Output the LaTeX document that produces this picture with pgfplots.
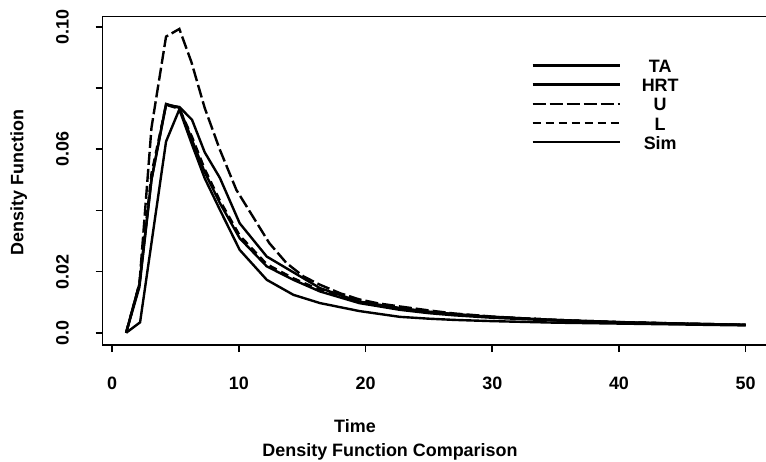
\documentclass[border=0pt]{standalone}
\usepackage{fontspec}
\setmainfont{Liberation Sans}
\usepackage{pgfplots}
\pgfplotsset{compat=1.18}

\begin{document}
\begin{tikzpicture}
% page = 766 x 462 bp, axis box lower-left corner at (0,0)
\useasboundingbox (-102.7bp,-117bp) rectangle (663.3bp,345bp);
\begin{axis}[
    scale only axis,
    width=681bp, height=328.3bp,
    xmin=-0.75, xmax=53,
    ymin=-0.004, ymax=0.1033,
    axis line style={line width=1.6bp},
    tick style={line width=1.6bp, black},
    tick align=outside, tick pos=left,
    major tick length=7bp,
    xtick={0,10,20,30,40,50},
    xticklabels={0,10,20,30,40,50},
    ytick={0,0.02,0.04,0.06,0.08,0.1},
    yticklabels={0.0,0.02,,0.06,,0.10},
    /pgf/number format/assume math mode=true,
    ticklabel style={font=\fontsize{18}{21}\selectfont\bfseries, inner sep=0pt},
    xticklabel style={anchor=base},
    xticklabel shift=37.3bp,
    yticklabel style={rotate=90, anchor=base},
    yticklabel shift=27bp,
    label style={font=\fontsize{18}{21}\selectfont\bfseries, inner sep=0pt},
    xlabel={Time},
    xlabel style={at={(axis description cs:0.3705,0)}, anchor=base, yshift=-87bp},
    ylabel={Density Function},
    ylabel style={at={(axis description cs:-0.1163,0.495)}, anchor=base},
    title={Density Function Comparison},
    title style={font=\fontsize{18}{21}\selectfont\bfseries, inner sep=0pt,
        at={(axis description cs:0.4219,0)}, anchor=base, yshift=-117bp},
    legend style={draw=none, fill=none, at={(axis cs:33.07,0.0894)}, anchor=north west,
        font=\fontsize{18}{21}\selectfont\bfseries, inner sep=0pt,
        row sep=6.2bp, column sep=21bp,
        nodes={inner sep=0pt, text height=13bp, text depth=0pt}},
    legend cell align=center,
    legend image code/.code={\draw[#1] (0bp,0.5bp) -- (87bp,0.5bp);},
    curve/.style={black, line width=2.4bp, mark=none},
]
% TA
\addplot[curve, solid] coordinates {
 (1.1,0) (2.15,0.016) (3.1,0.05) (4.25,0.0748) (5.3,0.0735) (6.3,0.063)
 (7.3,0.0525) (8.5,0.0424) (10.06,0.0309) (12.2,0.0217) (14.3,0.0173)
 (16.4,0.0135) (19.5,0.0097) (22.7,0.0075) (25,0.0064) (27,0.0057)
 (30,0.0049) (35,0.0040) (40,0.0034) (45,0.0029) (50,0.0026)
};
\addlegendentry{TA}
% HRT
\addplot[curve, solid] coordinates {
 (1.1,0) (2.15,0.015) (3.1,0.05) (4.25,0.0745) (5.3,0.0738) (6.3,0.0696)
 (7.3,0.059) (8.5,0.0506) (10.06,0.0358) (12.2,0.0249) (13.75,0.0211)
 (16.4,0.0146) (19.5,0.0102) (22.7,0.0081) (25,0.0069) (27,0.0061)
 (30,0.0052) (35,0.0042) (40,0.0035) (45,0.0030) (50,0.0026)
};
\addlegendentry{HRT}
% U
\addplot[curve, dash pattern=on 13bp off 4bp] coordinates {
 (1.1,0) (2.15,0.016) (3.1,0.067) (4.25,0.0968) (5.3,0.0993) (6.25,0.0885)
 (7.3,0.0735) (8.5,0.0598) (9.8,0.0467) (11.1,0.038) (12.4,0.0293)
 (13.75,0.0228) (15.1,0.0184) (16.4,0.0157) (18,0.0129) (19.5,0.0109)
 (21,0.0096) (22.7,0.0086) (25,0.0073) (27,0.0063) (30,0.0053)
 (33,0.0046) (36,0.0040) (40,0.0034) (45,0.0030) (50,0.0026)
};
\addlegendentry{U}
% L
\addplot[curve, dash pattern=on 8bp off 5bp] coordinates {
 (1.1,0) (2.15,0.016) (3.1,0.052) (4.25,0.0745) (5.3,0.0732) (6.3,0.064)
 (7.3,0.0535) (8.5,0.0432) (10.06,0.0318) (12.2,0.0224) (14.3,0.0178)
 (16.4,0.0140) (19.5,0.0101) (22.7,0.0079) (25,0.0068) (27,0.0061)
 (30,0.0052) (35,0.0042) (40,0.0035) (45,0.0030) (50,0.0026)
};
\addlegendentry{L}
% Sim
\addplot[curve, solid] coordinates {
 (1.1,0) (2.2,0.0034) (4.25,0.0625) (5.3,0.073) (6.3,0.0615) (7.3,0.0505)
 (8.5,0.0402) (10.06,0.0271) (12.2,0.0173) (14.3,0.0124) (16.4,0.0097)
 (19.5,0.0071) (22.7,0.0052) (25,0.0046) (27,0.0042) (30,0.0038)
 (35,0.0033) (40,0.0030) (45,0.0027) (50,0.0024)
};
\addlegendentry{Sim}
\end{axis}
\end{tikzpicture}
\end{document}
